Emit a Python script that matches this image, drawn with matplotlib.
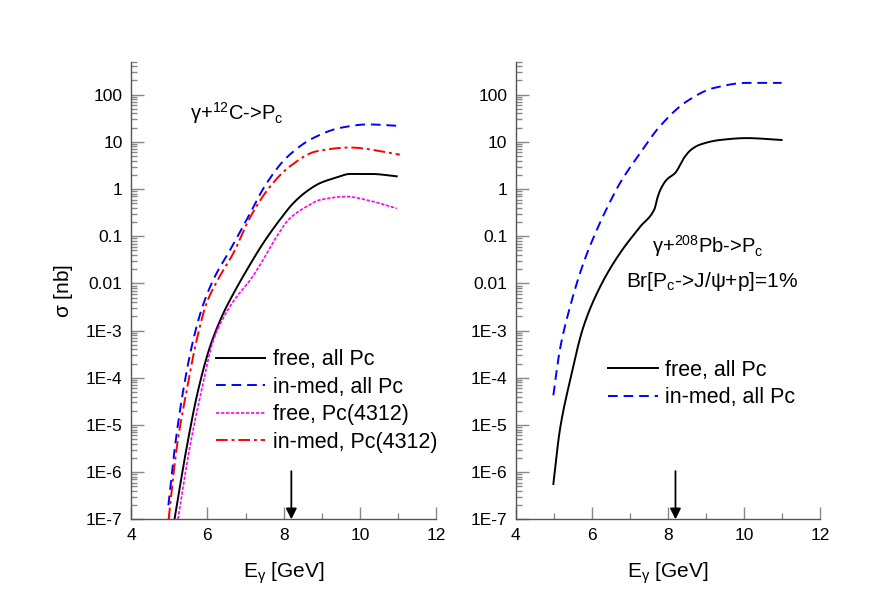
import numpy as np
import matplotlib
matplotlib.use("Agg")
import matplotlib.pyplot as plt
from matplotlib.ticker import LogLocator, FixedLocator, NullFormatter

plt.rcParams['font.family'] = ['Liberation Sans', 'DejaVu Sans']
plt.rcParams['mathtext.fontset'] = 'custom'
plt.rcParams['mathtext.rm'] = 'Liberation Sans'
plt.rcParams['mathtext.it'] = 'Liberation Sans'

# ---- data (E in GeV, log10 of sigma in nb) ----
# gamma + 12C
c_free_all_E = [5.14, 5.46, 5.76, 6.07, 6.42, 6.64, 7.03, 7.46, 7.9, 8.25, 8.6, 8.95, 9.4, 9.73, 10.3, 10.96]
c_free_all_lg = [-7.0, -5.47, -4.26, -3.34, -2.63, -2.28, -1.72, -1.15, -0.65, -0.3, -0.05, 0.125, 0.25, 0.32, 0.32, 0.27]

c_med_all_E = [4.98, 5.15, 5.37, 5.63, 5.89, 6.2, 6.59, 7.03, 7.55, 8.08, 8.77, 9.5, 10.2, 11.0]
c_med_all_lg = [-6.7, -5.47, -4.26, -3.2, -2.45, -1.85, -1.3, -0.65, 0.12, 0.67, 1.08, 1.3, 1.37, 1.34]

c_free_4312_E = [5.23, 5.54, 5.85, 6.16, 6.59, 6.77, 7.12, 7.46, 7.82, 8.16, 8.6, 8.95, 9.65, 10.17, 10.96]
c_free_4312_lg = [-7.0, -5.47, -4.26, -3.2, -2.49, -2.28, -1.93, -1.5, -1.0, -0.62, -0.37, -0.23, -0.16, -0.23, -0.41]

c_med_4312_E = [4.985, 5.2, 5.46, 5.72, 5.98, 6.29, 6.68, 7.12, 7.64, 8.16, 8.86, 9.73, 11.04]
c_med_4312_lg = [-7.0, -5.47, -4.26, -3.2, -2.42, -1.9, -1.36, -0.6, 0.05, 0.48, 0.8, 0.88, 0.73]

# gamma + 208Pb
pb_free_all_E = [4.99, 5.16, 5.43, 5.78, 6.22, 6.74, 7.27, 7.65, 7.72, 7.8, 7.97, 8.19, 8.45, 8.62, 8.84, 9.37, 10.07, 10.99]
pb_free_all_lg = [-6.25, -5.11, -4.05, -2.92, -2.07, -1.36, -0.8, -0.42, -0.2, -0.02, 0.2, 0.34, 0.69, 0.84, 0.94, 1.04, 1.08, 1.04]

pb_med_all_E = [4.99, 5.16, 5.43, 5.78, 6.13, 6.48, 6.74, 7.27, 7.79, 8.5, 9.2, 10.07, 10.99]
pb_med_all_lg = [-4.37, -3.41, -2.49, -1.57, -0.87, -0.27, 0.125, 0.76, 1.33, 1.86, 2.14, 2.25, 2.25]

y_ticks = [1e-7, 1e-6, 1e-5, 1e-4, 1e-3, 0.01, 0.1, 1, 10, 100]
y_tick_labels = ['1E-7', '1E-6', '1E-5', '1E-4', '1E-3', '0.01', '0.1', '1', '10', '100']
x_ticks = [4, 6, 8, 10, 12]
arrow_E = 8.2


def smooth(E, lg, n=400):
    # monotone cubic (Fritsch-Carlson) through the read points, in log space
    x = np.asarray(E, float)
    y = np.asarray(lg, float)
    h = np.diff(x)
    d = np.diff(y) / h
    m = np.zeros_like(y)
    m[0], m[-1] = d[0], d[-1]
    for i in range(1, len(y) - 1):
        if d[i - 1] * d[i] <= 0:
            m[i] = 0.0
        else:
            w1 = 2 * h[i] + h[i - 1]
            w2 = h[i] + 2 * h[i - 1]
            m[i] = (w1 + w2) / (w1 / d[i - 1] + w2 / d[i])
    xf = np.linspace(x[0], x[-1], n)
    idx = np.clip(np.searchsorted(x, xf) - 1, 0, len(x) - 2)
    t = (xf - x[idx]) / h[idx]
    h00 = 2 * t**3 - 3 * t**2 + 1
    h10 = t**3 - 2 * t**2 + t
    h01 = -2 * t**3 + 3 * t**2
    h11 = t**3 - t**2
    yf = h00 * y[idx] + h10 * h[idx] * m[idx] + h01 * y[idx + 1] + h11 * h[idx] * m[idx + 1]
    return xf, 10 ** yf


def style_axes(ax):
    ax.set_yscale('log')
    ax.set_xlim(4, 12)
    ax.set_ylim(1e-7, 500)
    for side in ['top', 'right']:
        ax.spines[side].set_visible(False)
    for side in ['left', 'bottom']:
        ax.spines[side].set_color('#555555')
        ax.spines[side].set_linewidth(1.0)
    ax.set_xticks(x_ticks)
    ax.xaxis.set_minor_locator(FixedLocator([5, 7, 9, 11]))
    ax.set_yticks(y_ticks)
    ax.set_yticklabels(y_tick_labels)
    ax.yaxis.set_minor_locator(LogLocator(base=10, subs=np.arange(2, 10), numticks=20))
    ax.yaxis.set_minor_formatter(NullFormatter())
    ax.tick_params(which='major', direction='in', length=9, width=1, color='#888888', labelsize=12.5, pad=6)
    ax.tick_params(which='minor', direction='in', length=4.5, width=1, color='#888888')
    ax.set_xlabel(r'E$_\gamma$ [GeV]', fontsize=15, labelpad=13)
    ax.annotate('', xy=(arrow_E, 1e-7), xytext=(arrow_E, 1.05e-6),
                arrowprops=dict(arrowstyle='-|>', color='black', lw=1.3,
                                mutation_scale=16, shrinkA=0, shrinkB=0))


fig = plt.figure(figsize=(8.72, 6.11), dpi=100)
ax1 = fig.add_axes([0.1502, 0.150, 0.3503, 0.749])
ax2 = fig.add_axes([0.5914, 0.150, 0.3490, 0.749])

leg_kw = dict(loc='upper left', frameon=False, fontsize=15.5, handlelength=2.3,
              handletextpad=0.33, labelspacing=0.3, borderaxespad=0)

# left panel
ax1.plot(*smooth(c_free_all_E, c_free_all_lg), color='black', lw=1.4, label='free, all Pc')
ax1.plot(*smooth(c_med_all_E, c_med_all_lg), color='blue', lw=1.4, ls=(0, (5, 3)), label='in-med, all Pc')
ax1.plot(*smooth(c_free_4312_E, c_free_4312_lg), color='magenta', lw=1.2, ls=(0, (2, 1)), label='free, Pc(4312)')
ax1.plot(*smooth(c_med_4312_E, c_med_4312_lg), color='red', lw=1.4, ls=(0, (6, 2, 1.5, 2)), label='in-med, Pc(4312)')
style_axes(ax1)
ax1.set_ylabel(r'$\sigma$ [nb]', fontsize=15, labelpad=8)
ax1.text(5.55, 30, r'$\gamma$+$^{12}$C->P$_c$', fontsize=14.5, va='baseline')
ax1.legend(bbox_to_anchor=(0.25, 0.39), **leg_kw)

# right panel
ax2.plot(*smooth(pb_free_all_E, pb_free_all_lg), color='black', lw=1.4, label='free, all Pc')
ax2.plot(*smooth(pb_med_all_E, pb_med_all_lg), color='blue', lw=1.4, ls=(0, (5, 3)), label='in-med, all Pc')
style_axes(ax2)
ax2.text(9.04, 0.045, r'$\gamma$+$^{208}$Pb->P$_c$', fontsize=14.5, ha='center', va='baseline')
ax2.text(9.17, 0.0085, r'Br[P$_c$->J/$\psi$+p]=1%', fontsize=15, ha='center', va='baseline')
ax2.legend(bbox_to_anchor=(0.275, 0.367), **leg_kw)

fig.savefig('out.png', dpi=100)
